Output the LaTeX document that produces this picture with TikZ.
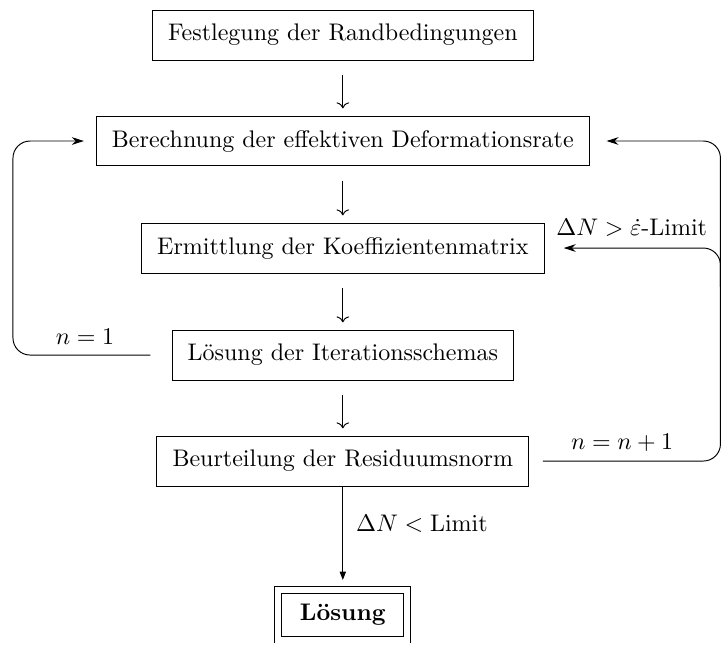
\documentclass[tikz,border=0pt]{standalone}
\usetikzlibrary{arrows.meta}
\begin{document}
\begin{tikzpicture}[
  stepbox/.style={draw, inner xsep=6.5pt, inner ysep=0pt, minimum height=20.8pt},
  endbox/.style={draw, double, double distance=2.5pt, font=\bfseries,
                 minimum width=53.7pt, minimum height=20.6pt},
  loop/.style={-{Stealth[length=5pt,width=3.2pt]}, rounded corners=0.25cm},
]
\useasboundingbox (0,0) rectangle (10.558,-9.445);

\node at (5.02,-0.513) (base) {};
\path (base) +(0,0)      node[stepbox] (rand) {Festlegung der Randbedingungen}
             +(0,-1.552) node[stepbox] (defo) {Berechnung der effektiven Deformationsrate}
             +(0,-3.119) node[stepbox] (koef) {Ermittlung der Koeffizientenmatrix}
             +(0,-4.686) node[stepbox] (iter) {Lösung der Iterationsschemas}
             +(0,-6.238) node[stepbox] (resi) {Beurteilung der Residuumsnorm}
             +(0,-8.49)  node[endbox]  (loes) {Lösung}
;

\foreach \a/\b in {rand/defo,defo/koef,koef/iter,iter/resi}
  {\draw[->, shorten <=6pt, shorten >=3pt] (\a) -- (\b);}

\draw[-{Triangle[length=3.5pt,width=2.6pt]}, shorten >=4pt] (resi) -- (loes)
  node[midway, right=2pt, yshift=6pt] (klein) {$\Delta N < \mathrm{Limit}$};

% Schleife links
\coordinate (lside) at (0.19,-3.6);
\draw[loop, shorten >=5pt] ([xshift=-0.31cm]iter.west) -- (lside |- iter.west)
  -- (lside |- defo.west) -- (defo.west);
\node at (1.245,-4.93) (neins) {$n=1$};

% Schleife rechts
\coordinate (rside) at (10.55,-4.2);
\draw[loop, shorten >=7pt] ([xshift=0.2cm]resi.east) -- (rside |- resi.east)
  -- (rside |- defo.east) -- (defo.east);
\draw[loop, shorten >=8pt] (rside) |- (koef.east);
\node at (9.25,-3.339) (gross) {$\Delta N > \dot{\varepsilon}$-Limit};
\node at (9.11,-6.487) (nplus) {$n=n+1$};

\end{tikzpicture}
\end{document}
